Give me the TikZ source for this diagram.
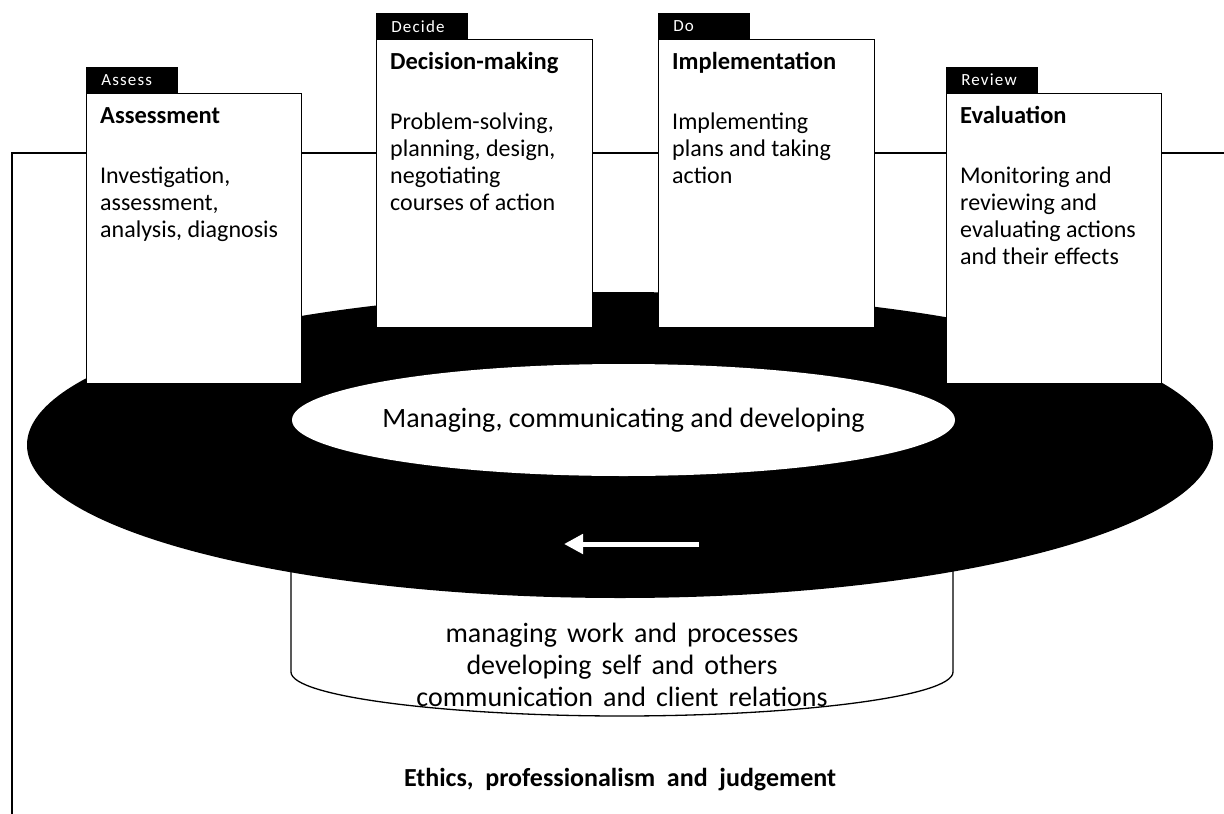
\documentclass[tikz,border=0pt]{standalone}
\usepackage{fontspec}
\setmainfont{Carlito}
\newfontfamily\tabfont[LetterSpace=7]{Carlito}
\usetikzlibrary{arrows.meta}
\newcommand\widesp{\hspace{0.45em}}
\newcommand\midsp{\hspace{0.36em}}
\begin{document}
\begin{tikzpicture}[x=1pt,y=-1pt,
  stage/.style={draw=black, line width=1.3pt, fill=white, minimum width=215pt,
    inner sep=0pt, anchor=north west},
  tabbox/.style={fill=black, draw=black, line width=0.6pt, text=white,
    font=\tabfont\fontsize{17}{20}\selectfont, inner xsep=15pt, inner ysep=0pt,
    minimum height=25pt, text width=61pt, align=left, anchor=south west},
  title/.style={font=\fontsize{24.5}{27}\selectfont\bfseries, anchor=base west, inner sep=0pt},
  body/.style={font=\fontsize{24}{27}\selectfont, anchor=north west, inner sep=0pt, align=left},
  link/.style={line width=1.3pt, draw=black},
  big/.style={font=\fontsize{28}{32}\selectfont, inner sep=0pt, align=center},
]
\useasboundingbox (0,0) rectangle (1224,814);

% drum below the ring
\draw[line width=1.3pt, fill=white] (291,440) -- (291,672)
  .. controls (291,697) and (450,716) .. (622,716)
  .. controls (794,716) and (953,697) .. (953,672) -- (953,440);
\node[big] (drumtext) at (622,665) {managing\midsp work\midsp and\midsp processes\\developing\midsp self\midsp and\midsp others\\communication\midsp and\midsp client\midsp relations};

% black ring with its white centre
\fill[black] (620,445) ellipse [x radius=593pt, y radius=153pt];
\fill[white] (623.5,420) ellipse [x radius=331.5pt, y radius=56pt];
\node[big] (core) at (623.5,420) {Managing, communicating and developing};

% direction arrow on the ring
\coordinate (arrS) at (699,544);
\coordinate (arrE) at (564,544);
\draw[white, line width=5pt, -{Triangle[length=19pt,width=19pt]}] (arrS) -- (arrE);

% stage cards
\node[stage, minimum height=290pt] (assess) at (86,93) {};
\node[stage, minimum height=288pt, minimum width=216pt] (decide) at (376,39) {};
\node[stage, minimum height=288pt, minimum width=216pt] (do) at (658,39) {};
\node[stage, minimum height=290pt] (review) at (946,93) {};

\node[tabbox] (assesstab) at (assess.north west) {Assess};
\node[tabbox] (decidetab) at (decide.north west) {Decide};
\node[tabbox] (dotab) at (do.north west) {Do};
\node[tabbox] (reviewtab) at (review.north west) {Review};

\node[title] (assessT) at (100,123) {Assessment};
\node[body] (assessB) at (100,164.1) {\strut Investigation,\\assessment,\\analysis, diagnosis};

\node[title] (decideT) at (390,69) {Decision-making};
\node[body] (decideB) at (390,110.1) {\strut Problem-solving,\\planning, design,\\negotiating\\courses of action};

\node[title] (doT) at (672,69) {Implementation};
\node[body] (doB) at (672,110.1) {\strut Implementing\\plans and taking\\action};

\node[title] (reviewT) at (960,123) {Evaluation};
\node[body] (reviewB) at (960,164.1) {\strut Monitoring and\\reviewing and\\evaluating actions\\and their effects};

% frame line joining the cards
\coordinate (frameB) at (12,814);
\coordinate (frameL) at (12,153);
\coordinate (frameR) at (1224,153);
\draw[link] (frameB) -- (frameL) -- (assess.west |- frameL);
\draw[link] (assess.east |- frameL) -- (decide.west |- frameL);
\draw[link] (decide.east |- frameL) -- (do.west |- frameL);
\draw[link] (do.east |- frameL) -- (review.west |- frameL);
\draw[link] (review.east |- frameL) -- (frameR);

\node[font=\fontsize{26}{30}\selectfont\bfseries, inner sep=0pt] (ethics) at (620,780) {Ethics,\widesp professionalism\widesp and\widesp judgement};
\end{tikzpicture}
\end{document}
